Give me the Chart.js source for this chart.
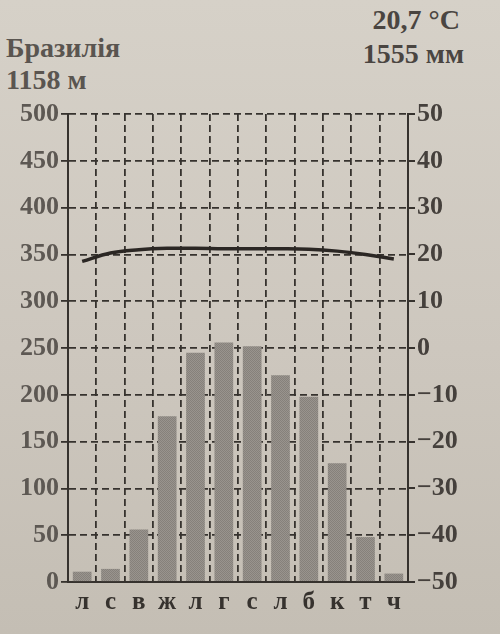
<!DOCTYPE html>
<html>
<head>
<meta charset="utf-8">
<script src="https://cdn.jsdelivr.net/npm/chart.js@4"></script>
<style>
  html, body { margin: 0; padding: 0; }
  body {
    width: 500px; height: 634px; overflow: hidden; position: relative;
    background: linear-gradient(180deg, #d6d1c8 0%, #cdc7be 55%, #c4beb4 100%);
    font-family: "Liberation Serif", "DejaVu Serif", serif;
    color: #4a4541;
  }
  .lbl { position: absolute; font-size: 28px; font-weight: bold; line-height: 1; white-space: nowrap; }
  #wrap { position: absolute; left: 0; top: 0; width: 500px; height: 634px; }
</style>
</head>
<body>
<div class="lbl" style="left:6px; top:34px; color:#5a5550;">Бразилія</div>
<div class="lbl" style="left:6px; top:66px; color:#5a5550;">1158 м</div>
<div class="lbl" style="right:40px; top:6px;">20,7 °C</div>
<div class="lbl" style="right:36px; top:40px;">1555 мм</div>
<div id="wrap"><canvas id="myChart" width="500" height="634"></canvas></div>
<script>
// months start from July (southern hemisphere)
const months = ['л', 'с', 'в', 'ж', 'л', 'г', 'с', 'л', 'б', 'к', 'т', 'ч'];
// precipitation, mm
const precip = [11, 14, 56, 177, 245, 256, 252, 221, 198, 127, 48, 9];
// mean temperature, °C
const temps = [18.5, 20.3, 21.0, 21.3, 21.3, 21.2, 21.2, 21.2, 21.1, 20.7, 20.0, 19.0];
const precipTicks = [0, 50, 100, 150, 200, 250, 300, 350, 400, 450, 500];
const tempTicks = [-50, -40, -30, -20, -10, 0, 10, 20, 30, 40, 50];

const ink = '#36322e';
const tickFont = { family: 'Liberation Serif', size: 26, weight: 'bold' };

// soft halftone fill for the bars
const pc = document.createElement('canvas');
pc.width = 2; pc.height = 2;
const p = pc.getContext('2d');
p.fillStyle = '#99948e';
p.fillRect(0, 0, 2, 2);
p.fillStyle = '#86817b';
p.fillRect(0, 0, 1, 1);
p.fillRect(1, 1, 1, 1);

const ctx = document.getElementById('myChart').getContext('2d');
const barFill = ctx.createPattern(pc, 'repeat');

var chart = new Chart(ctx, {
  data: {
    labels: months,
    datasets: [{
      type: 'line',
      label: 't',
      data: temps,
      yAxisID: 'y2',
      borderColor: '#2b2724',
      borderWidth: 3.5,
      tension: 0.4,
      pointRadius: 0,
      order: 0
    }, {
      type: 'bar',
      label: 'mm',
      data: precip,
      yAxisID: 'y',
      backgroundColor: barFill,
      barPercentage: 0.66,
      categoryPercentage: 1,
      order: 1
    }]
  },
  options: {
    responsive: false,
    animation: false,
    layout: { padding: { top: 114, left: 0, right: 0, bottom: 0 } },
    plugins: { legend: { display: false }, tooltip: { enabled: false } },
    scales: {
      x: {
        offset: true,
        grid: {
          offset: true,
          color: ink,
          lineWidth: 1.8,
          tickLength: 0
        },
        border: { color: ink, width: 2, dash: [7, 4] },
        ticks: { color: ink, font: { family: 'Liberation Serif', size: 25, weight: 'bold' }, padding: 6 },
        afterFit: function (s) { s.height = 52; }
      },
      y: {
        position: 'left',
        min: 0, max: 500,
        afterBuildTicks: function (s) { s.ticks = precipTicks.map(v => ({ value: v })); },
        grid: {
          color: ink,
          lineWidth: 1.8,
          tickLength: 7,
          tickBorderDash: [20, 0],
          tickColor: ink
        },
        border: { color: ink, width: 2, dash: [7, 4] },
        ticks: { color: '#5d5853', font: tickFont, padding: 2 },
        afterFit: function (s) { s.width = 68; }
      },
      y2: {
        position: 'right',
        min: -50, max: 50,
        afterBuildTicks: function (s) { s.ticks = tempTicks.map(v => ({ value: v })); },
        grid: {
          drawOnChartArea: false,
          color: ink,
          tickLength: 7,
          tickBorderDash: [20, 0],
          tickColor: ink,
          lineWidth: 2
        },
        border: { color: ink, width: 2 },
        ticks: {
          color: '#45403c', font: tickFont, padding: 2,
          callback: function (v) { return v < 0 ? '−' + Math.abs(v) : String(v); }
        },
        afterFit: function (s) { s.width = 92; }
      }
    }
  }
});
</script>
</body>
</html>
